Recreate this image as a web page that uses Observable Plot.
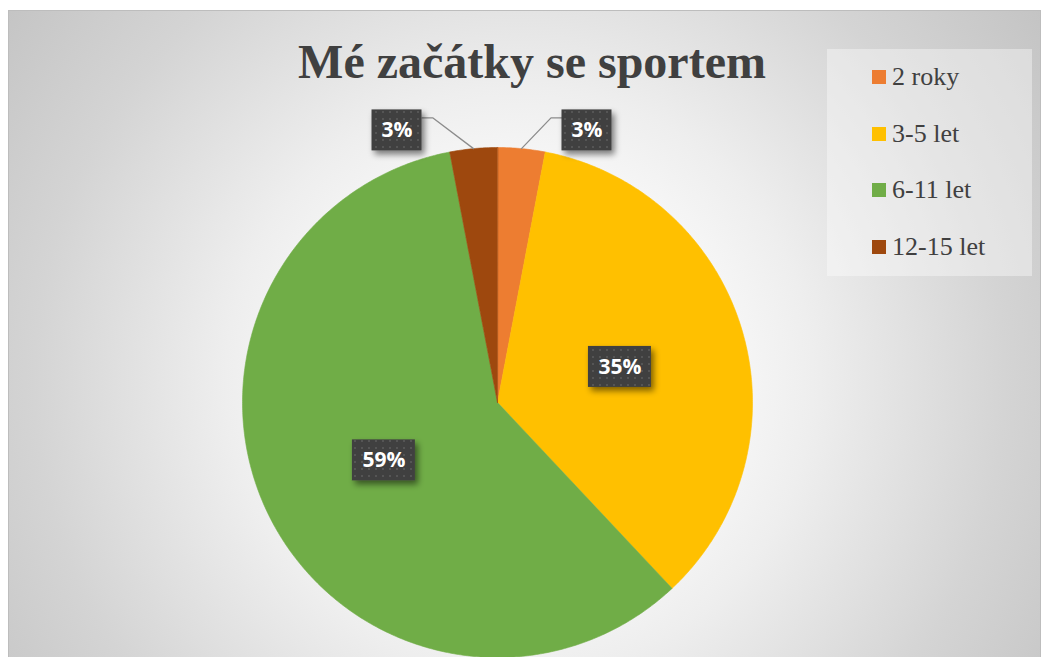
<!DOCTYPE html>
<html>
<head>
<meta charset="utf-8">
<script src="https://cdn.jsdelivr.net/npm/d3@7"></script>
<script src="https://cdn.jsdelivr.net/npm/@observablehq/plot@0.6"></script>
<style>
  html, body { margin: 0; padding: 0; width: 1045px; height: 657px; overflow: hidden; background: #ffffff; }
  #frame {
    position: absolute; left: 8px; top: 10px; width: 1031px; height: 660px;
    border: 1px solid #bdbdbd;
    background: radial-gradient(circle farthest-corner at 49.5% 56%, #ffffff 0%, #fafafa 28%, #eeeeee 46%, #d4d4d4 76%, #c4c4c4 100%);
    overflow: hidden;
  }
  #title {
    position: absolute; left: 0; top: 27px; width: 1046px; text-align: center;
    font-family: "Liberation Serif", "Times New Roman", serif; font-weight: bold;
    font-size: 48px; line-height: 48px; color: #404040; white-space: nowrap;
  }
  #chart { position: absolute; left: 0; top: 0; }
  #legend {
    position: absolute; left: 818px; top: 38px; width: 205px; height: 227px;
    background: rgba(255,255,255,0.38);
  }
  .row { height: 56.5px; display: flex; align-items: center; }
  .sw { width: 14px; height: 14px; margin-left: 45px; flex: none; }
  .lab { margin-left: 6px; font-family: "Liberation Serif", "Times New Roman", serif; font-size: 26px; color: #404040; white-space: nowrap; }
</style>
</head>
<body>
<div id="frame">
  <div id="chart"></div>
  <div id="title"></div>
  <div id="legend"></div>
</div>
<script>
// ---- data ----
const chartTitle = "Mé začátky se sportem";
const categories = ["2 roky", "3-5 let", "6-11 let", "12-15 let"];
const values = [3, 35, 59, 3];
const colors = ["#ED7D31", "#FFC000", "#70AD47", "#9E480E"];

// ---- layout ----
const W = 1031, H = 646;
const cx = 488, cy = 391, R = 255;

const total = d3.sum(values);
let acc = 0;
const slices = values.map((v, i) => {
  const a0 = acc / total * 2 * Math.PI;
  acc += v;
  const a1 = acc / total * 2 * Math.PI;
  return { cat: categories[i], value: v, a0, a1, mid: (a0 + a1) / 2, pct: Math.round(v / total * 100) + "%" };
});

// slice polygons
const slicePts = [];
for (const s of slices) {
  slicePts.push({ cat: s.cat, x: 0, y: 0 });
  const n = Math.max(2, Math.ceil((s.a1 - s.a0) / (Math.PI / 360)));
  for (let k = 0; k <= n; k++) {
    const a = s.a0 + (s.a1 - s.a0) * k / n;
    slicePts.push({ cat: s.cat, x: R * Math.sin(a), y: -R * Math.cos(a) });
  }
}

// labels
const boxH = 41;
const labels = slices.map(s => {
  const w = s.pct.length <= 2 ? 50 : 63;
  const small = s.value / total < 0.08;
  let x, y, line = null;
  if (!small) {
    x = 0.5 * R * Math.sin(s.mid);
    y = -0.5 * R * Math.cos(s.mid);
  } else {
    const ax = R * Math.sin(s.mid), ay = -R * Math.cos(s.mid);
    const side = ax >= 0 ? 1 : -1;
    const edge = ax + side * 46 - 5.5;
    x = edge + side * w / 2;
    y = -1.067 * R;
    const ly = y - boxH / 2 + 8;
    line = [
      { id: s.cat, x: edge, y: ly },
      { id: s.cat, x: edge - side * 11, y: ly },
      { id: s.cat, x: ax, y: ay }
    ];
  }
  return { ...s, x, y, w, line };
});
const leaderPts = labels.filter(d => d.line).flatMap(d => d.line);

const plot = Plot.plot({
  width: W, height: H,
  margin: 0,
  style: { background: "transparent", overflow: "visible" },
  x: { domain: [-cx, W - cx], range: [0, W], axis: null },
  y: { domain: [-cy, H - cy], range: [0, H], axis: null },
  color: { domain: categories, range: colors },
  marks: [
    Plot.line(slicePts, { x: "x", y: "y", z: "cat", fill: "cat", stroke: "cat", strokeWidth: 0.6, curve: "linear-closed" }),
    Plot.line(leaderPts, { x: "x", y: "y", z: "id", stroke: "#8c8c8c", strokeWidth: 1.3 }),
    Plot.rect(labels, { x1: d => d.x - d.w / 2, x2: d => d.x + d.w / 2, y1: d => d.y - boxH / 2, y2: d => d.y + boxH / 2, fill: "#404040" }),
    Plot.text(labels, { x: "x", y: "y", text: "pct", fill: "white", fontSize: 21, fontWeight: "bold", fontFamily: "Open Sans, sans-serif" })
  ]
});

// label boxes: select before adding defs
const svg = d3.select(plot);
const boxes = svg.selectAll("rect").filter(function () {
  const own = this.getAttribute("fill");
  const par = this.parentNode && this.parentNode.getAttribute && this.parentNode.getAttribute("fill");
  return (own || par || "").toLowerCase() === "#404040";
});

// defs: drop shadow + dotted pattern
const defs = svg.insert("defs", ":first-child");
const f = defs.append("filter").attr("id", "lblShadow").attr("x", "-40%").attr("y", "-40%").attr("width", "180%").attr("height", "190%");
f.append("feGaussianBlur").attr("in", "SourceAlpha").attr("stdDeviation", 3).attr("result", "blur");
f.append("feOffset").attr("in", "blur").attr("dx", 3).attr("dy", 4).attr("result", "off");
f.append("feComponentTransfer").attr("in", "off").attr("result", "shadow")
  .append("feFuncA").attr("type", "linear").attr("slope", 0.5);
const fm = f.append("feMerge");
fm.append("feMergeNode").attr("in", "shadow");
fm.append("feMergeNode").attr("in", "SourceGraphic");
const pat = defs.append("pattern").attr("id", "dots").attr("patternUnits", "userSpaceOnUse").attr("width", 7).attr("height", 7);
pat.append("rect").attr("width", 7).attr("height", 7).attr("fill", "#404040");
pat.append("rect").attr("x", 2).attr("y", 2).attr("width", 2).attr("height", 2).attr("fill", "#545454");

boxes.attr("fill", "url(#dots)").attr("filter", "url(#lblShadow)");

document.getElementById("chart").appendChild(plot);
document.getElementById("title").textContent = chartTitle;

// legend
const legend = d3.select("#legend");
categories.forEach((c, i) => {
  const row = legend.append("div").attr("class", "row");
  row.append("div").attr("class", "sw").style("background", colors[i]);
  row.append("div").attr("class", "lab").text(c);
});
</script>
</body>
</html>
